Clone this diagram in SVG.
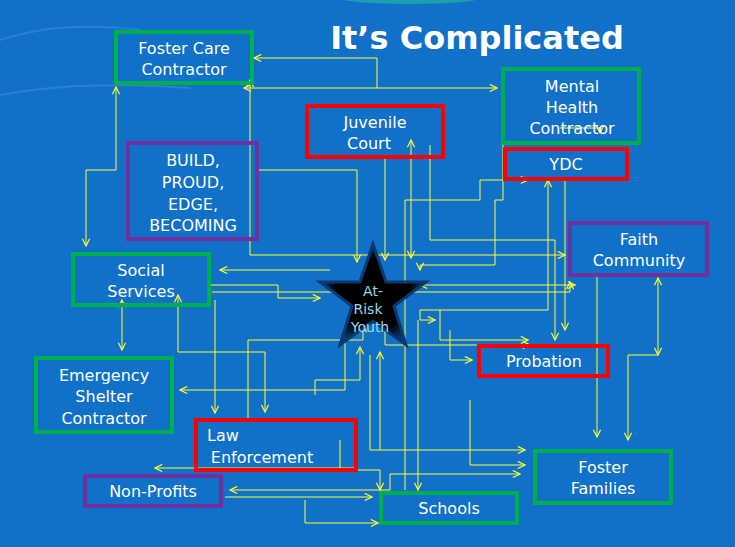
<svg xmlns="http://www.w3.org/2000/svg" width="735" height="547" viewBox="0 0 735 547">
<defs>
<marker id="a" viewBox="0 0 10 10" refX="9" refY="5" markerWidth="9" markerHeight="9" orient="auto-start-reverse" markerUnits="userSpaceOnUse"><path d="M1,1 L9,5 L1,9" fill="none" stroke="#ffff33" stroke-width="1.3"/></marker>
<radialGradient id="sg"><stop offset="0.7" stop-color="#000"/><stop offset="1" stop-color="#0a3a70"/></radialGradient>
</defs>
<style>
.g{fill:none;stroke:#00b050;stroke-width:4}
.r{fill:none;stroke:#ff0000;stroke-width:4}
.p{fill:none;stroke:#7030a0;stroke-width:4}
.t{font-family:"DejaVu Sans",sans-serif;font-size:16px;fill:#fff;text-anchor:middle}
.s{font-family:"DejaVu Sans",sans-serif;font-size:14px;fill:#9ad8f0;text-anchor:middle}
#c polyline,#c line{fill:none;stroke:#ffff33;stroke-width:1;marker-end:url(#a)}
</style>
<rect width="735" height="547" fill="#1170c8"/>
<path d="M0,40 Q60,20 140,30 M0,95 Q80,80 190,88" stroke="#3a90d8" stroke-width="2" fill="none" opacity="0.6"/>
<ellipse cx="410" cy="-2" rx="70" ry="6" fill="#1ba0b0"/>
<text x="477" y="49" font-family="DejaVu Sans,sans-serif" font-size="32" font-weight="bold" fill="#fff" text-anchor="middle">It’s Complicated</text>
<g id="c">
<polyline points="377,88 377,58 254,58"/>
<line x1="244" y1="88" x2="497" y2="88" marker-start="url(#a)"/>
<polyline points="116,87 116,170 86,170 86,246" marker-start="url(#a)"/>
<polyline points="250,80 250,255 565,255" marker-start="url(#a)"/>
<polyline points="257,170 357,170 357,262"/>
<polyline points="385,157 385,260"/>
<polyline points="411,258 411,140" marker-start="url(#a)"/>
<polyline points="405,490 405,200 480,200 480,180 528,180"/>
<polyline points="430,145 430,240 555,240 555,340"/>
<polyline points="503,105 503,200 495,200 495,265 420,265 420,270"/>
<polyline points="548,180 548,310 420,310 420,320 435,320" marker-start="url(#a)"/>
<polyline points="565,180 565,330"/>
<polyline points="330,270 220,270"/>
<polyline points="210,285 278,285 278,298 320,298"/>
<polyline points="212,292 570,292 570,282"/>
<line x1="420" y1="285" x2="575" y2="285" marker-start="url(#a)"/>
<line x1="122" y1="300" x2="122" y2="350" marker-start="url(#a)"/>
<polyline points="178,295 178,352 265,352 265,412" marker-start="url(#a)"/>
<polyline points="215,300 215,413"/>
<polyline points="345,330 345,390 180,390"/>
<polyline points="248,420 248,340 363,340 363,325"/>
<polyline points="315,395 315,380 360,380 360,347"/>
<polyline points="340,440 340,470 380,470 380,490"/>
<line x1="355" y1="468" x2="155" y2="468"/>
<polyline points="520,474 390,474 390,490 230,490" marker-start="url(#a)"/>
<polyline points="225,497 372,497"/>
<polyline points="305,500 305,523 378,523"/>
<polyline points="370,355 370,450 525,450"/>
<polyline points="470,400 470,465 525,465"/>
<polyline points="380,450 380,352"/>
<polyline points="440,310 440,340 528,340"/>
<polyline points="450,330 450,360 472,360"/>
<line x1="658" y1="278" x2="658" y2="355" marker-start="url(#a)"/>
<polyline points="658,355 628,355 628,440"/>
<polyline points="597,275 597,437"/>
<polyline points="385,330 385,345 530,345"/>
<polyline points="418,320 418,490"/>
<polyline points="560,128 600,128 600,133"/>
</g>
<g id="star"><polygon points="373,244 386,282 426,282 394,306 406,345 373,321 340,345 352,306 320,282 360,282" fill="url(#sg)" stroke="#0a3a70" stroke-width="3"/><text class="s" x="373" y="296">At-</text><text class="s" x="368" y="314">Risk</text><text class="s" x="370" y="332">Youth</text></g>
<g id="fcc"><rect class="g" x="116" y="32" width="136" height="51"/><text class="t" x="184" y="54">Foster Care</text><text class="t" x="184" y="75">Contractor</text></g>
<g id="mhc"><rect class="g" x="503" y="69" width="136" height="74"/><text class="t" x="572" y="92">Mental</text><text class="t" x="572" y="113">Health</text><text class="t" x="572" y="134">Contractor</text></g>
<g id="jc"><rect class="r" x="307" y="106" width="136" height="51"/><text class="t" x="375" y="128">Juvenile</text><text class="t" x="369" y="149">Court</text></g>
<g id="ydc"><rect class="r" x="505" y="149" width="122" height="30"/><text class="t" x="566" y="170">YDC</text></g>
<g id="build"><rect class="p" x="128" y="143" width="129" height="96"/><text class="t" x="193" y="166">BUILD,</text><text class="t" x="193" y="188">PROUD,</text><text class="t" x="193" y="210">EDGE,</text><text class="t" x="193" y="231">BECOMING</text></g>
<g id="faith"><rect class="p" x="570" y="223" width="137" height="52"/><text class="t" x="639" y="245">Faith</text><text class="t" x="639" y="266">Community</text></g>
<g id="ss"><rect class="g" x="73" y="254" width="136" height="51"/><text class="t" x="141" y="276">Social</text><text class="t" x="141" y="297">Services</text></g>
<g id="esc"><rect class="g" x="36" y="358" width="136" height="74"/><text class="t" x="104" y="381">Emergency</text><text class="t" x="104" y="402">Shelter</text><text class="t" x="104" y="424">Contractor</text></g>
<g id="prob"><rect class="r" x="479" y="346" width="129" height="30"/><text class="t" x="544" y="367">Probation</text></g>
<g id="law"><rect class="r" x="196" y="420" width="160" height="50"/><text class="t" x="223" y="441">Law</text><text class="t" x="262" y="463">Enforcement</text></g>
<g id="ff"><rect class="g" x="535" y="451" width="136" height="52"/><text class="t" x="603" y="473">Foster</text><text class="t" x="603" y="494">Families</text></g>
<g id="np"><rect class="p" x="85" y="476" width="136" height="30"/><text class="t" x="153" y="497">Non-Profits</text></g>
<g id="sch"><rect class="g" x="381" y="493" width="136" height="30"/><text class="t" x="449" y="514">Schools</text></g>
</svg>
